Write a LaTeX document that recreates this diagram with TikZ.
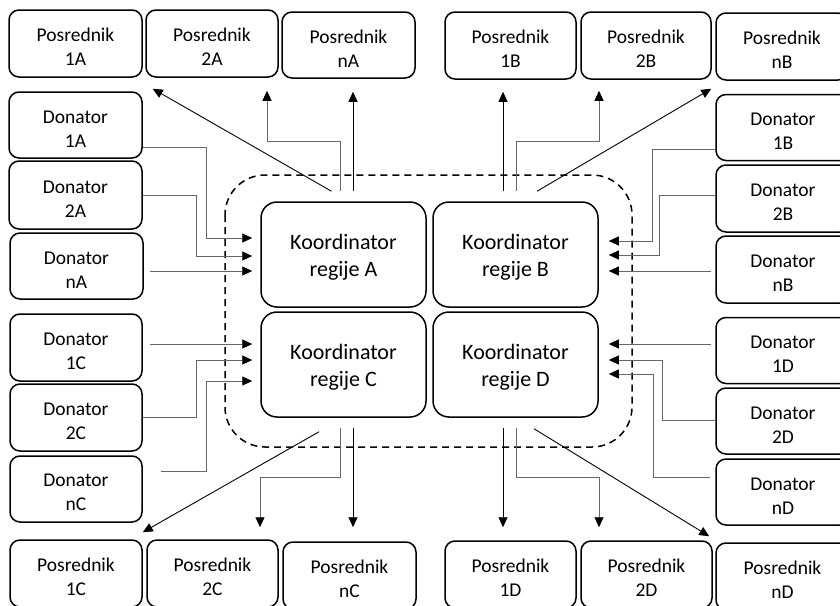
\documentclass[tikz,border=0pt]{standalone}
\usepackage{fontspec}
\setmainfont{Carlito}
\usetikzlibrary{arrows.meta,calc}
\newcommand{\tstrut}{\rule{0pt}{20pt}}
\newcommand{\kstrut}{\rule{0pt}{21pt}}
\begin{document}
\begin{tikzpicture}[x=1pt,y=-1pt,
  sbox/.style={draw,line width=1.5pt,rounded corners=10pt,align=center,inner sep=0pt,
    font=\fontsize{19.5}{24}\selectfont,text=black},
  kbox/.style={draw,line width=1.5pt,rounded corners=16pt,align=center,inner sep=0pt,
    minimum width=165pt,minimum height=105pt,font=\fontsize{22}{27}\selectfont,text=black},
  bk/.style={draw=black,line width=0.9pt,-{Triangle[length=10pt,width=9pt]}},
  gy/.style={draw=black!60,line width=0.9pt,-{Triangle[length=10pt,width=9pt,fill=black,color=black]}},
  frame/.style={draw,line width=1.5pt,dash pattern=on 7pt off 5pt,rounded corners=40pt}]
\useasboundingbox (0,0) rectangle (840,605);
\fill[white] (0,0) rectangle (840,605);

% top intermediaries
\node[sbox,minimum width=133pt,minimum height=67pt] (P1A) at (75.5,43.5) {\tstrut Posrednik\\1A};
\node[sbox,minimum width=132pt,minimum height=67pt] (P2A) at (212,43.5) {\tstrut Posrednik\\2A};
\node[sbox,minimum width=133pt,minimum height=66pt] (PnA) at (348.5,45) {\tstrut Posrednik\\nA};
\node[sbox,minimum width=131pt,minimum height=67pt] (P1B) at (510.5,45.5) {\tstrut Posrednik\\1B};
\node[sbox,minimum width=130pt,minimum height=67pt] (P2B) at (646,45.5) {\tstrut Posrednik\\2B};
\node[sbox,minimum width=132pt,minimum height=67pt] (PnB) at (782,46.5) {\tstrut Posrednik\\nB};

% bottom intermediaries
\node[sbox,minimum width=132pt,minimum height=67pt] (P1C) at (76,573.5) {\tstrut Posrednik\\1C};
\node[sbox,minimum width=131pt,minimum height=67pt] (P2C) at (212.5,573.5) {\tstrut Posrednik\\2C};
\node[sbox,minimum width=133pt,minimum height=67pt] (PnC) at (349.5,575.5) {\tstrut Posrednik\\nC};
\node[sbox,minimum width=131pt,minimum height=67pt] (P1D) at (510.5,574.5) {\tstrut Posrednik\\1D};
\node[sbox,minimum width=131pt,minimum height=67pt] (P2D) at (646.5,574.5) {\tstrut Posrednik\\2D};
\node[sbox,minimum width=133pt,minimum height=67pt] (PnD) at (782.5,576.5) {\tstrut Posrednik\\nD};

% left donors
\node[sbox,minimum width=133pt,minimum height=66pt] (D1A) at (75.5,125) {\tstrut Donator\\1A};
\node[sbox,minimum width=133pt,minimum height=68pt] (D2A) at (75.5,195) {\tstrut Donator\\2A};
\node[sbox,minimum width=133pt,minimum height=66pt] (DnA) at (76.5,266) {\tstrut Donator\\nA};
\node[sbox,minimum width=132pt,minimum height=67pt] (D1C) at (76,347.5) {\tstrut Donator\\1C};
\node[sbox,minimum width=132pt,minimum height=67pt] (D2C) at (76,417.5) {\tstrut Donator\\2C};
\node[sbox,minimum width=132pt,minimum height=66pt] (DnC) at (76,489) {\tstrut Donator\\nC};

% right donors
\node[sbox,minimum width=134pt,minimum height=66pt] (D1B) at (783,127.5) {\tstrut Donator\\1B};
\node[sbox,minimum width=134pt,minimum height=67pt] (D2B) at (783,198.5) {\tstrut Donator\\2B};
\node[sbox,minimum width=134pt,minimum height=67pt] (DnB) at (783,269.5) {\tstrut Donator\\nB};
\node[sbox,minimum width=134pt,minimum height=66pt] (D1D) at (783,350.5) {\tstrut Donator\\1D};
\node[sbox,minimum width=134pt,minimum height=66pt] (D2D) at (783,421) {\tstrut Donator\\2D};
\node[sbox,minimum width=134pt,minimum height=66pt] (DnD) at (783,492) {\tstrut Donator\\nD};

% dashed region
\draw[frame] (225,175) rectangle (632,447);

% coordinators
\node[kbox] (KA) at (343.5,254.5) {\kstrut Koordinator\\regije A};
\node[kbox] (KB) at (515.5,254.5) {\kstrut Koordinator\\regije B};
\node[kbox] (KC) at (343.5,364.5) {\kstrut Koordinator\\regije C};
\node[kbox] (KD) at (515.5,364.5) {\kstrut Koordinator\\regije D};

% top A
\draw[bk] ($(KA.north)+(-12,-10)$) -- ($(P1A.south east)+(10,11)$);
\draw[gy] ($(KA.north)+(-3.5,-10)$) |- (267,141) -- ($(P2A.south)+(55,13)$);
\draw[bk] ($(KA.north)+(9.5,-10)$) -- ($(PnA.south)+(4.5,13)$);
% top B
\draw[bk] ($(KB.north)+(-12.5,-10)$) -- ($(P1B.south)+(-7.5,12)$);
\draw[gy] ($(KB.north)+(0.5,-10)$) |- (599,141) -- ($(P2B.south)+(-47,11)$);
\draw[bk] ($(KB.north)+(21.5,-10)$) -- ($(PnB.south west)+(-4,8)$);
% bottom C
\draw[bk] ($(KC.south)+(-24.5,14)$) -- ($(P1C.north east)+(0,-7)$);
\draw[gy] ($(KC.south)+(-3.5,10)$) |- (260,477) -- ($(P2C.north)+(47.5,-12)$);
\draw[bk] ($(KC.south)+(9.5,10)$) -- ($(PnC.north)+(3.5,-14)$);
% bottom D
\draw[bk] ($(KD.south)+(-12.5,10)$) -- ($(P1D.north)+(-7.5,-13)$);
\draw[gy] ($(KD.south)+(0.5,10)$) |- (599,477) -- ($(P2D.north)+(-47.5,-13)$);
\draw[bk] ($(KD.south)+(18.5,11)$) -- ($(PnD.north west)+(-6,-6)$);

% left donors to A and C
\draw[gy] ($(D1A.east)+(0,22)$) -| ($(KA.west)+(-54,-16.5)$) -- ($(KA.west)+(-8,-16.5)$);
\draw[gy] (D2A.east) -| ($(KA.west)+(-64,1.5)$) -- ($(KA.west)+(-8,1.5)$);
\draw[gy] ($(DnA.east)+(6,5)$) -- ($(KA.west)+(-8,16.5)$);
\draw[gy] ($(D1C.east)+(7,-3.5)$) -- ($(KC.west)+(-8,-20.5)$);
\draw[gy] (D2C.east) -| ($(KC.west)+(-64,-4.5)$) -- ($(KC.west)+(-8,-4.5)$);
\draw[gy] ($(DnC.east)+(18,-18)$) -| ($(KC.west)+(-54,16.5)$) -- ($(KC.west)+(-8,16.5)$);

% right donors to B and D
\draw[gy] ($(D1B.west)+(0,21.5)$) -| ($(KB.east)+(54,-13.5)$) -- ($(KB.east)+(10,-13.5)$);
\draw[gy] ($(D2B.west)+(0,-3.5)$) -| ($(KB.east)+(61,0.5)$) -- ($(KB.east)+(10,0.5)$);
\draw[gy] ($(DnB.west)+(-4,1.5)$) -- ($(KB.east)+(10,16.5)$);
\draw[gy] ($(D1D.west)+(-4,-6.5)$) -- ($(KD.east)+(10,-20.5)$);
\draw[gy] ($(D2D.west)+(0,-1)$) -| ($(KD.east)+(64,-4.5)$) -- ($(KD.east)+(10,-4.5)$);
\draw[gy] ($(DnD.west)+(-5,-15)$) -| ($(KD.east)+(55,9.5)$) -- ($(KD.east)+(10,9.5)$);
\end{tikzpicture}
\end{document}
